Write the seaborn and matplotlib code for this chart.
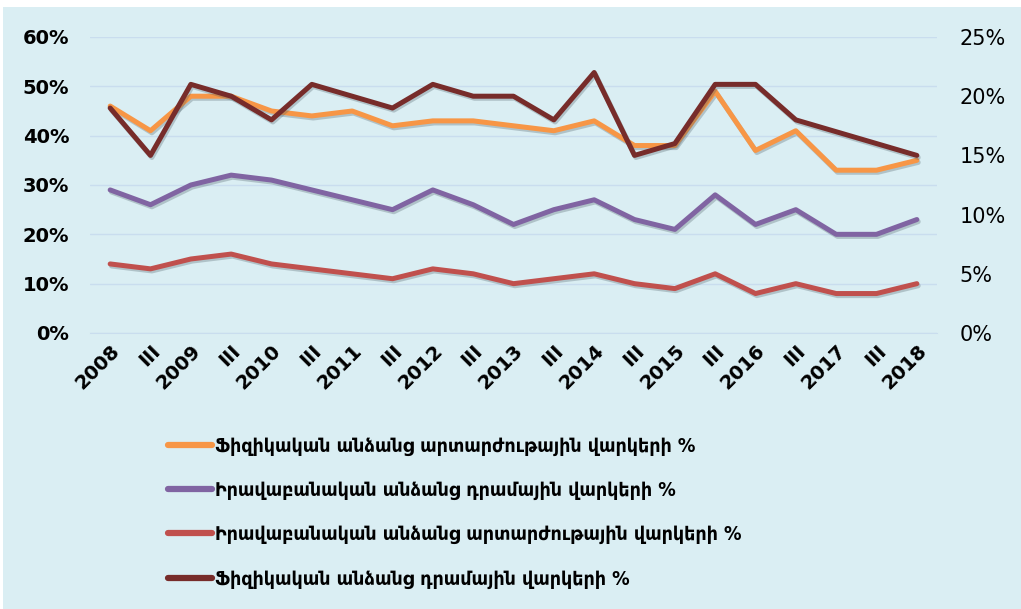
import numpy as np
import pandas as pd
import matplotlib
matplotlib.use('Agg')
import matplotlib.pyplot as plt
import matplotlib.patheffects as pe
from matplotlib.patches import Rectangle
from matplotlib.ticker import FixedLocator
from matplotlib.font_manager import FontProperties
import seaborn as sns

# x labels (half-year points)
periods = ['2008', 'III', '2009', 'III', '2010', 'III', '2011', 'III', '2012', 'III',
           '2013', 'III', '2014', 'III', '2015', 'III', '2016', 'III', '2017', 'III', '2018']

# left axis series (%)
phys_fx = [46, 41, 48, 48, 45, 44, 45, 42, 43, 43, 42, 41, 43, 38, 38, 49, 37, 41, 33, 33, 35]
legal_amd = [29, 26, 30, 32, 31, 29, 27, 25, 29, 26, 22, 25, 27, 23, 21, 28, 22, 25, 20, 20, 23]
legal_fx = [14, 13, 15, 16, 14, 13, 12, 11, 13, 12, 10, 11, 12, 10, 9, 12, 8, 10, 8, 8, 10]
# right axis series (%)
phys_amd = [19, 15, 21, 20, 18, 21, 20, 19, 21, 20, 20, 18, 22, 15, 16, 21, 21, 18, 17, 16, 15]

labels = ['Ֆիզիկական անձանց արտարժութային վարկերի %',
          'Իրավաբանական անձանց դրամային վարկերի %',
          'Իրավաբանական անձանց արտարժութային վարկերի %',
          'Ֆիզիկական անձանց դրամային վարկերի %']
colors = ['#F79646', '#8064A2', '#C0504D', '#772C2A']

bg = '#DAEEF3'
grid_c = '#C9DDEE'

df = pd.DataFrame({'pos': np.arange(len(periods)),
                   'phys_fx': phys_fx, 'legal_amd': legal_amd,
                   'legal_fx': legal_fx, 'phys_amd': phys_amd})

sns.set_style('white')
plt.rcParams['font.family'] = ['DejaVu Sans']
plt.rcParams['text.color'] = 'black'
plt.rcParams['xtick.color'] = 'black'
plt.rcParams['ytick.color'] = 'black'

fig = plt.figure(figsize=(10.21, 6.09), dpi=100)
fig.patch.set_facecolor('white')
fig.patches.append(Rectangle((0.003, 0), 0.997, 1 - 7 / 609, transform=fig.transFigure,
                             facecolor=bg, edgecolor='none', zorder=-10))

ax = fig.add_axes([90 / 1021, 1 - 333 / 609, 847 / 1021, 296 / 609])
ax.set_facecolor(bg)
ax2 = ax.twinx()

shadow = [pe.SimpleLineShadow(offset=(1.0, -1.5), shadow_color='#4d5f66', alpha=0.3), pe.Normal()]

for col, c, lab in zip(['phys_fx', 'legal_amd', 'legal_fx'], colors[:3], labels[:3]):
    sns.lineplot(data=df, x='pos', y=col, ax=ax, color=c, linewidth=3.6, label=lab,
                 path_effects=shadow, legend=False)
sns.lineplot(data=df, x='pos', y='phys_amd', ax=ax2, color=colors[3], linewidth=3.6,
             label=labels[3], path_effects=shadow, legend=False)

n = len(periods)
ax.set_xlim(-0.5, n - 0.5)
ax.set_ylim(0, 60)
ax2.set_ylim(0, 25)

ax.set_yticks(np.arange(0, 61, 10))
ax.set_yticklabels([f'{v}%' for v in range(0, 61, 10)], fontsize=14, fontweight='bold')
ax2.set_yticks(np.arange(0, 26, 5))
ax2.set_yticklabels([f'{v}%' for v in range(0, 26, 5)], fontsize=15)

ax.set_xticks(np.arange(n))
ax.set_xticklabels(periods, rotation=45, ha='right', rotation_mode='anchor',
                   fontsize=14, fontweight='bold')
ax.tick_params(axis='x', length=0, pad=6)
ax.xaxis.set_minor_locator(FixedLocator(np.arange(-0.5, n, 1)))
ax.tick_params(axis='x', which='minor', length=6, color=grid_c, width=1)
ax.tick_params(axis='y', length=0, pad=15)
ax2.tick_params(axis='y', length=0, pad=16)

ax.grid(axis='y', color=grid_c, linewidth=1)
ax.set_axisbelow(True)
for a in (ax, ax2):
    for s in ['top', 'left', 'right']:
        a.spines[s].set_visible(False)
    a.spines['bottom'].set_color(grid_c)
    a.set_xlabel('')
    a.set_ylabel('')
ax2.spines['bottom'].set_visible(False)

h1, l1 = ax.get_legend_handles_labels()
h2, l2 = ax2.get_legend_handles_labels()
leg_font = FontProperties(family='DejaVu Sans', stretch='condensed', weight='bold', size=14)
leg = fig.legend(h1 + h2, l1 + l2, loc='upper left', bbox_to_anchor=(150 / 1021, 1 - 419 / 609),
                 frameon=False, prop=leg_font, labelspacing=1.3, handlelength=2.3,
                 handletextpad=0.15)
for line in leg.get_lines():
    line.set_linewidth(4.5)
    line.set_path_effects([])

fig.savefig('out.png', dpi=100, facecolor=fig.get_facecolor())
